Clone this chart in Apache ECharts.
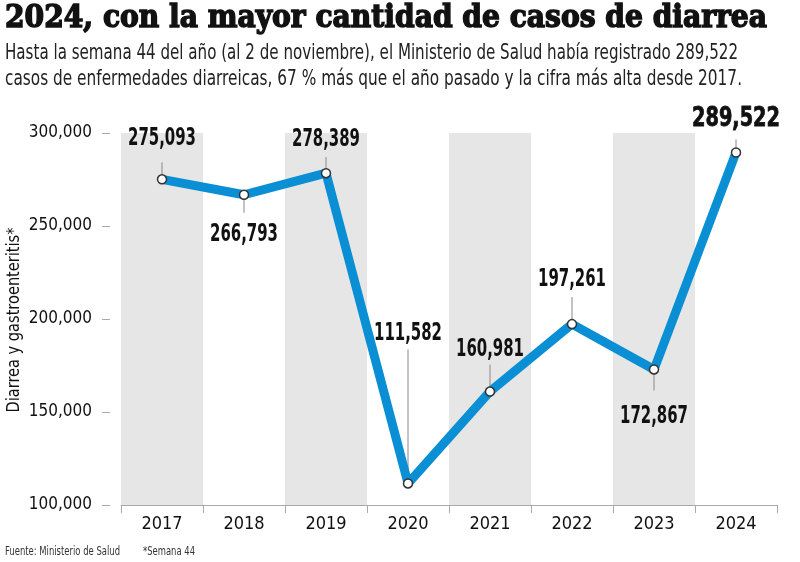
<!DOCTYPE html>
<html>
<head>
<meta charset="utf-8">
<script src="https://cdn.jsdelivr.net/npm/echarts@6/dist/echarts.min.js"></script>
<style>html,body{margin:0;padding:0;background:#fff;}#c{width:800px;height:562px;}</style>
</head>
<body>
<div id="c"></div>
<script>
// ---- data ----
var years = ['2017','2018','2019','2020','2021','2022','2023','2024'];
var cases = [275093, 266793, 278389, 111582, 160981, 197261, 172867, 289522];
var yTicks = [100000, 150000, 200000, 250000, 300000];

var titleText = '2024, con la mayor cantidad de casos de diarrea';
var subLine1 = 'Hasta la semana 44 del año (al 2 de noviembre), el Ministerio de Salud había registrado 289,522';
var subLine2 = 'casos de enfermedades diarreicas, 67 % más que el año pasado y la cifra más alta desde 2017.';
var yName = 'Diarrea y gastroenteritis*';
var source = 'Fuente: Ministerio de Salud';
var note = '*Semana 44';

// ---- annotation layout (px offsets from each point) ----
var labelDy = [-41, 40, -33, -150, -42, -44, 47, -33];
var leaderEnd = [-17, 18, -16, -134, -27, -27, 21, -13];

var COND = '"DejaVu Sans Condensed", "DejaVu Sans", sans-serif';

function fmt(v){ return String(v).replace(/\B(?=(\d{3})+(?!\d))/g, ','); }

var mctx = document.createElement('canvas').getContext('2d');
function fitScale(text, font, target){
  mctx.font = font;
  return target / mctx.measureText(text).width;
}
var titleFont = 'bold 32px "DejaVu Serif Condensed", "DejaVu Serif", serif';
var titleScale = fitScale(titleText, titleFont, 762);
var subFont = '21px ' + COND;
var s1 = fitScale(subLine1, subFont, 733);
var s2 = fitScale(subLine2, subFont, 737);
var yNameFont = '18px ' + COND;
var yNameScale = fitScale(yName, yNameFont, 185);
var footFont = '13px ' + COND;
var fs1 = fitScale(source, footFont, 115);
var fs2 = fitScale(note, footFont, 52);
var lblFont = 'bold 24px ' + COND;
var lblScale = fitScale('275,093', lblFont, 68);
var lastFont = 'bold 26px ' + COND;
var lastScale = fitScale('289,522', lastFont, 88);

var chart = echarts.init(document.getElementById('c'), null, {renderer:'canvas'});

var option = {
  backgroundColor: '#fff',
  animation: false,
  grid: {left: 121, right: 23, top: 133, bottom: 57},
  xAxis: {
    type: 'category',
    data: years,
    boundaryGap: true,
    axisLine: {lineStyle: {color: '#aaa', width: 1}},
    axisTick: {show: true, length: 8, lineStyle: {color: '#aaa'}},
    axisLabel: {fontFamily: COND, fontSize: 18, color: '#111', margin: 10},
    splitLine: {show: false},
    splitArea: {show: true, areaStyle: {color: ['#e6e6e6', 'rgba(255,255,255,0)']}}
  },
  yAxis: {
    type: 'value',
    min: yTicks[0],
    max: yTicks[yTicks.length - 1],
    interval: yTicks[1] - yTicks[0],
    offset: 11,
    axisLine: {show: false},
    axisTick: {show: true, length: 8, lineStyle: {color: '#aaa'}},
    axisLabel: {fontFamily: COND, fontSize: 17, color: '#111', margin: 18, formatter: fmt},
    splitLine: {show: false}
  },
  graphic: [
    {type: 'text', x: 5, y: 3, z: 10, scaleX: titleScale,
      style: {text: titleText, font: titleFont, fill: '#111', stroke: '#111', lineWidth: 1.4}},
    {type: 'text', x: 5, y: 43, z: 10, scaleX: s1,
      style: {text: subLine1, font: subFont, fill: '#222'}},
    {type: 'text', x: 5, y: 69, z: 10, scaleX: s2,
      style: {text: subLine2, font: subFont, fill: '#222'}},
    {type: 'text', x: 14, y: 320, rotation: Math.PI / 2, scaleX: yNameScale, z: 10,
      style: {text: yName, font: yNameFont, fill: '#111', align: 'center', verticalAlign: 'middle'}},
    {type: 'text', x: 5, y: 545, z: 10, scaleX: fs1,
      style: {text: source, font: footFont, fill: '#333'}},
    {type: 'text', x: 143, y: 545, z: 10, scaleX: fs2,
      style: {text: note, font: footFont, fill: '#333'}}
  ],
  series: [
    {
      type: 'custom',
      z: 1,
      data: cases.map(function(v, i){ return [i, v]; }),
      encode: {x: 0, y: 1},
      renderItem: function(params, api){
        var i = params.dataIndex;
        var p = api.coord([api.value(0), api.value(1)]);
        var dir = labelDy[i] < 0 ? -1 : 1;
        var last = i === years.length - 1;
        return {
          type: 'group',
          children: [
            {type: 'line', shape: {x1: p[0], y1: p[1] + dir * 4, x2: p[0], y2: p[1] + leaderEnd[i]},
              style: {stroke: '#888', lineWidth: 1}},
            {type: 'text', x: p[0], y: p[1] + labelDy[i], scaleX: last ? lastScale : lblScale,
              style: {text: fmt(api.value(1)),
                font: last ? lastFont : lblFont,
                fill: '#111', stroke: last ? '#111' : null, lineWidth: last ? 0.8 : 0,
                align: 'center', verticalAlign: 'middle'}}
          ]
        };
      }
    },
    {
      type: 'line',
      z: 3,
      data: cases,
      lineStyle: {color: '#0a8fd5', width: 9},
      symbol: 'circle',
      symbolSize: 9,
      showAllSymbol: true,
      itemStyle: {color: '#fff', borderColor: '#333', borderWidth: 1.5},
      label: {show: false}
    }
  ]
};
chart.setOption(option);
</script>
</body>
</html>
